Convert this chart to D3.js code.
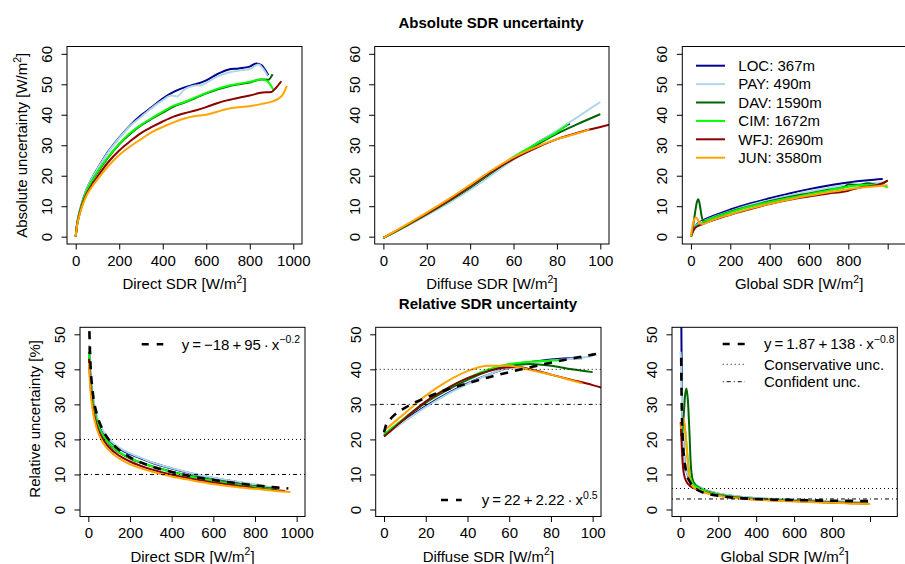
<!DOCTYPE html>
<html>
<head>
<meta charset="utf-8">
<script src="https://cdn.jsdelivr.net/npm/d3@7"></script>
<style>
body { margin: 0; background: #fff; }
svg { font-family: "Liberation Sans", Arial, Helvetica, sans-serif; }
</style>
</head>
<body>
<svg id="chart" width="905" height="564"></svg>
<script>
// stations, in legend order
var stations = ['LOC: 367m', 'PAY: 490m', 'DAV: 1590m', 'CIM: 1672m', 'WFJ: 2690m', 'JUN: 3580m'];
var colors = ['#00008b', '#add8e6', '#006400', '#00ff00', '#8b0000', '#ffa500'];

// absolute uncertainty [W/m2] vs direct SDR, one list per station
var absDirect = [
	[[0,0],[5,3.5],[10,5.8],[20,8.8],[35,12.5],[50,15.5],[75,19.2],[100,22.3],[150,28],[200,32.5],[250,36.5],[300,39.8],[350,42.5],[400,45.3],[450,47.5],[500,49],[550,50],[600,51.3],[650,53.3],[700,54.8],[750,55.2],[800,55.8],[830,56.8],[855,56.2],[870,54.8],[885,53]],
	[[0,0],[5,3.5],[10,5.8],[20,8.8],[35,12.5],[50,15.5],[75,19.1],[100,22.2],[150,27.8],[200,32.3],[250,36.3],[300,39.3],[350,42.2],[400,44.8],[440,46.3],[465,46],[500,48.3],[550,49.6],[580,49.8],[600,50.5],[650,52.5],[700,53.8],[750,54.5],[800,55],[840,56.5],[860,55.2],[880,53]],
	[[0,0],[5,3.3],[10,5.4],[20,8.4],[35,12],[50,14.8],[75,18.2],[100,21],[150,26],[200,30.3],[250,33.7],[300,36.5],[350,38.7],[400,40.7],[450,42.7],[500,44],[550,45.5],[600,47],[650,48.3],[700,49.3],[750,50],[800,50.6],[850,51.6],[885,51.5],[905,53.3]],
	[[0,0],[5,3.3],[10,5.4],[20,8.5],[35,12.1],[50,15],[75,18.4],[100,21.3],[150,26.3],[200,30.5],[250,34],[300,36.7],[350,38.9],[400,41],[450,43],[500,44.2],[550,45.7],[600,47.2],[650,48.5],[700,49.5],[750,50.2],[800,50.8],[850,51.6],[875,51.3],[895,49.8],[908,48.2]],
	[[0,0],[5,3.2],[10,5.2],[20,8.1],[35,11.5],[50,14],[75,17.1],[100,19.7],[150,24.5],[200,28.3],[250,31.3],[300,34],[350,36],[400,37.8],[450,39.4],[500,40.5],[550,41.4],[600,42.5],[650,43.8],[700,44.8],[750,45.6],[800,46.3],[850,47.2],[900,47.5],[920,48.8],[945,51]],
	[[0,0],[5,3.1],[10,5],[20,7.8],[35,11],[50,13.5],[75,16.4],[100,18.8],[150,23.2],[200,26.8],[250,29.6],[300,32],[350,34.3],[400,36],[450,37.5],[500,38.8],[550,39.6],[600,40],[650,41],[700,42],[750,42.5],[800,42.8],[850,43.5],[900,44.3],[930,45.2],[955,47],[970,49.5]]
];
var absDiffuse = [
	[[0,-0.4],[10,3.3],[20,7.2],[30,11.3],[40,15.8],[50,20.7],[60,25.6],[70,30.3],[80,34.6],[86,37.2]],
	[[0,-0.4],[10,3.2],[20,7],[30,11],[40,15.4],[50,20.3],[60,25.3],[70,30.2],[80,34.8],[90,39.5],[100,44.2]],
	[[0,-0.4],[10,3.4],[20,7.4],[30,11.6],[40,16.2],[50,21.1],[60,25.8],[70,29.8],[80,33.8],[90,37.1],[100,40.2]],
	[[0,-0.4],[10,3.4],[20,7.5],[30,11.8],[40,16.4],[50,21.3],[60,26.2],[70,30.3],[80,34.3],[85,36.8]],
	[[0,-0.4],[10,3.5],[20,7.5],[30,11.8],[40,16.5],[50,21.3],[60,25.5],[70,29],[80,32],[90,34.2],[100,36],[110,37.8]],
	[[0,-0.4],[10,3.7],[20,7.9],[30,12.3],[40,17],[50,21.8],[60,26],[70,29.3],[80,32],[90,34],[95,35.2]]
];
var absGlobal = [
	[[0,0],[15,2.5],[30,4],[60,5.3],[100,6.5],[200,8.9],[300,10.9],[400,12.6],[500,14.2],[600,15.6],[700,16.8],[800,17.8],[900,18.5],[975,18.9]],
	[[0,0],[15,2.5],[30,3.8],[60,5],[100,6.1],[200,8.4],[300,10.4],[400,12],[500,13.5],[600,14.8],[700,16],[800,17],[900,17.5],[975,17.8]],
	[[0,0],[10,3],[20,7.5],[30,11.3],[37,12.3],[45,10.5],[55,6.5],[65,5],[100,5.9],[200,8.2],[300,10],[400,11.6],[500,13],[600,14.2],[700,15.4],[780,16.3],[800,17.2],[850,16.9],[900,17.5],[950,17],[980,17.6],[1000,18.5]],
	[[0,0],[15,2.3],[30,3.6],[60,4.6],[100,5.8],[200,8],[300,9.9],[400,11.4],[500,12.7],[600,13.9],[700,15.2],[800,16.4],[900,17],[970,16.9],[1000,16.1]],
	[[0,0],[10,1.8],[20,2.8],[40,3.6],[60,4.1],[100,5.1],[200,7.2],[300,9],[400,10.7],[500,12.1],[600,13.2],[700,14.2],[780,14.8],[800,15.1],[850,16],[900,16.5],[950,17],[1000,18.4]],
	[[0,0],[8,3.5],[16,5.6],[25,6.3],[35,5.6],[45,4.3],[60,4.2],[100,5.2],[200,7.3],[300,9.2],[400,10.8],[500,12.2],[600,13.5],[700,14.6],[800,15.6],[900,16.3],[1000,16.9]]
];

// relative uncertainty [%]
var relDirect = [
	[[3,46.5],[10,38.5],[20,32.5],[40,26.5],[60,23.5],[80,21.3],[100,19.8],[150,17.3],[200,15.8],[250,14.6],[300,13.5],[400,11.7],[500,10.2],[600,9],[700,8],[800,7],[880,6.2]],
	[[3,47],[10,39],[20,33],[40,27],[60,23.8],[80,21.6],[100,20.1],[150,17.6],[200,16],[250,14.8],[300,13.6],[400,11.8],[500,10.3],[600,9.1],[700,8.1],[800,7.2],[880,6.3]],
	[[3,45],[10,37.5],[20,31.5],[40,25.5],[60,22.3],[80,20.2],[100,18.7],[150,16.2],[200,14.6],[250,13.4],[300,12.4],[400,10.8],[500,9.5],[600,8.4],[700,7.4],[800,6.6],[905,5.8]],
	[[3,44.5],[10,37.2],[20,31.3],[40,25.3],[60,22.3],[80,20.3],[100,18.9],[150,16.3],[200,14.7],[250,13.5],[300,12.4],[400,10.7],[500,9.3],[600,8.2],[700,7.2],[800,6.4],[908,5.5]],
	[[3,43],[10,35.5],[20,29.8],[40,24.2],[60,21.2],[80,19.2],[100,17.7],[150,15.3],[200,13.7],[250,12.5],[300,11.5],[400,9.9],[500,8.7],[600,7.7],[700,6.9],[800,6.1],[900,5.5],[945,5.3]],
	[[3,41.8],[10,34.3],[20,28.7],[40,23.2],[60,20.2],[80,18.2],[100,16.8],[150,14.5],[200,12.9],[250,11.8],[300,10.9],[400,9.4],[500,8.3],[600,7.3],[700,6.5],[800,5.9],[900,5.3],[970,5]]
];
var relDiffuse = [
	[[0,21],[10,25.5],[20,29.5],[30,33],[40,36],[50,38.5],[60,40.5],[70,42],[80,42.8],[90,43.2],[95,43.2]],
	[[0,21],[10,25.2],[20,29.2],[30,32.8],[40,35.8],[50,38.5],[60,40.5],[70,41.8],[80,42.5],[90,43],[100,43.8]],
	[[0,21.3],[10,26],[20,30.5],[30,34],[40,37],[50,39.5],[60,41],[70,41.5],[80,41],[90,40],[100,39.2]],
	[[0,21.5],[10,26.2],[20,30.8],[30,34.5],[40,37.5],[50,40],[60,41.5],[70,42.2],[80,42.5],[85,42.6]],
	[[0,20.8],[10,26],[20,30.8],[30,34.5],[40,37.5],[50,39.5],[60,40.6],[65,40.6],[70,40],[80,38.5],[90,37],[100,35.5],[106,34.5]],
	[[0,22.5],[10,27.5],[20,32.5],[30,36.5],[40,39.5],[50,41],[60,41],[65,40.5],[70,39.8],[80,38.5],[90,36.8],[95,36]]
];
var relGlobal = [
	[[4,62],[6,47],[8,36],[10,29],[15,20],[20,15.5],[30,11.5],[50,8.6],[75,7.3],[100,6.4],[150,5.2],[200,4.5],[300,3.7],[400,3.2],[500,2.9],[600,2.7],[700,2.5],[800,2.3],[900,2.1],[975,2]],
	[[1,45],[4,42],[7,35],[10,28],[15,20],[20,15.5],[30,11.5],[50,8.8],[75,7.4],[100,6.5],[150,5.3],[200,4.6],[300,3.8],[400,3.3],[500,3],[600,2.8],[700,2.6],[800,2.4],[900,2.2],[975,2.1]],
	[[3,21],[10,22.5],[18,27],[25,32.5],[32,34.5],[40,31],[48,22],[55,13],[65,8.5],[80,7],[100,6.2],[150,5],[200,4.3],[300,3.5],[400,3],[500,2.7],[600,2.5],[700,2.3],[800,2.1],[900,1.9],[990,1.8]],
	[[3,22],[8,24],[15,25],[22,24],[30,20],[40,14],[50,9.5],[65,7.5],[80,6.6],[100,6],[150,4.9],[200,4.2],[300,3.4],[400,3],[500,2.7],[600,2.5],[700,2.2],[800,2],[900,1.9],[990,1.7]],
	[[2,25],[5,21],[10,15],[15,11.5],[20,9.8],[30,8.2],[50,6.8],[75,6],[100,5.4],[150,4.6],[200,4],[300,3.3],[400,2.9],[500,2.6],[600,2.4],[700,2.2],[800,2],[900,1.8],[990,1.7]],
	[[3,23],[8,25],[15,26],[22,24.5],[30,20],[40,13],[50,8.5],[65,6.6],[80,6],[100,5.5],[150,4.5],[200,3.9],[300,3.2],[400,2.8],[500,2.5],[600,2.3],[700,2.1],[800,1.9],[900,1.7],[1000,1.6]]
];

// fitted curves (black dashed)
var fitDirect = [[5,50.9],[10,41.9],[20,34.2],[40,27.4],[60,23.9],[80,21.5],[100,19.8],[150,16.9],[200,14.9],[300,12.4],[400,10.7],[500,9.4],[600,8.4],[700,7.6],[800,6.9],[900,6.3],[960,6]];
var fitDiffuse = [[0,22],[1,24.2],[3,25.8],[5,27],[10,29],[15,30.6],[20,31.9],[30,34.2],[40,36],[50,37.7],[60,39.2],[70,40.6],[80,41.9],[90,43.1],[100,44.2],[106,44.9]];
var fitGlobal = [[4.5,43.3],[6,34.8],[8,28],[10,23.7],[15,17.7],[20,14.4],[30,10.9],[50,7.9],[75,6.2],[100,5.3],[150,4.4],[200,3.9],[300,3.3],[400,3],[500,2.8],[600,2.7],[700,2.6],[800,2.5],[900,2.45],[1000,2.4]];
var fitLabels = [
	['y\u2009=\u2009\u221218\u2009+\u200995\u2009\u00b7\u2009x', '\u22120.2'],
	['y\u2009=\u200922\u2009+\u20092.22\u2009\u00b7\u2009x', '0.5'],
	['y\u2009=\u20091.87\u2009+\u2009138\u2009\u00b7\u2009x', '\u22120.8']
];

// conservative (dotted) and confident (dot-dash) thresholds [%]
var conservative = [20, 40, 6];
var confident = [10, 30, 3];

var ticksDirect = [0, 200, 400, 600, 800, 1000];
var ticksDiffuse = [0, 20, 40, 60, 80, 100];
var ticksGlobal = [0, 200, 400, 600, 800, 1000];
var labelsGlobal = ['0', '200', '400', '600', '800', ''];
var ticksAbs = [0, 10, 20, 30, 40, 50, 60];
var ticksRel = [0, 10, 20, 30, 40, 50];

var svg = d3.select('#chart');
var FONT = 15;

// R style axis range: 4% on each side
function expand(lim) {
	var d = (lim[1] - lim[0]) * 0.04;
	return [lim[0] - d, lim[1] + d];
}

function supText(t, base, sup, after) {
	t.append('tspan').text(base);
	t.append('tspan').attr('dy', -6.5).attr('font-size', FONT * 0.7).text(sup);
	if (after) t.append('tspan').attr('dy', 6.5).text(after);
}

function drawPanel(p, idx) {
	var L = p.box[0], R = p.box[1], T = p.box[2], B = p.box[3];
	var x = d3.scaleLinear().domain(expand(p.xlim)).range([L, R]);
	var y = d3.scaleLinear().domain(expand(p.ylim)).range([B, T]);

	svg.append('clipPath').attr('id', 'clip' + idx)
		.append('rect')
		.attr('x', L).attr('y', T)
		.attr('width', R - L).attr('height', B - T);

	var g = svg.append('g');
	var plot = g.append('g').attr('clip-path', 'url(#clip' + idx + ')');

	var line = d3.line()
		.x(function(d){ return x(d[0]); })
		.y(function(d){ return y(d[1]); })
		.curve(d3.curveMonotoneX);

	p.series.forEach(function(s, i){
		plot.append('path')
			.attr('d', line(s))
			.attr('fill', 'none')
			.attr('stroke', colors[i])
			.attr('stroke-width', 2)
			.attr('stroke-linejoin', 'round');
	});

	if (p.fit) {
		plot.append('path')
			.attr('d', line(p.fit))
			.attr('fill', 'none')
			.attr('stroke', '#000')
			.attr('stroke-width', 2.6)
			.attr('stroke-dasharray', '8,7');
	}

	if (p.hlines) {
		plot.append('line')
			.attr('x1', L).attr('x2', R)
			.attr('y1', y(p.hlines[0])).attr('y2', y(p.hlines[0]))
			.attr('stroke', '#000').attr('stroke-width', 1)
			.attr('stroke-dasharray', '1,3');
		plot.append('line')
			.attr('x1', L).attr('x2', R)
			.attr('y1', y(p.hlines[1])).attr('y2', y(p.hlines[1]))
			.attr('stroke', '#000').attr('stroke-width', 1)
			.attr('stroke-dasharray', '1,3,4,3');
	}

	// box
	g.append('rect')
		.attr('x', L).attr('y', T)
		.attr('width', R - L).attr('height', B - T)
		.attr('fill', 'none').attr('stroke', '#000').attr('stroke-width', 1);

	// x axis
	var xa = g.append('g')
		.attr('transform', 'translate(0,' + B + ')')
		.call(d3.axisBottom(x).tickValues(p.xticks).tickSize(5.5)
			.tickFormat(function(d, i){ return p.xlabels ? p.xlabels[i] : d; }));
	xa.select('.domain').remove();
	xa.selectAll('line').attr('stroke', '#000');
	xa.selectAll('text')
		.attr('y', 21.5).attr('dy', null)
		.attr('fill', '#000')
		.attr('font-size', FONT)
		.attr('font-family', null);

	// y axis, labels turned like R's las = 0
	var ya = g.append('g')
		.attr('transform', 'translate(' + L + ',0)')
		.call(d3.axisLeft(y).tickValues(p.yticks).tickSize(5.5));
	ya.select('.domain').remove();
	ya.selectAll('line').attr('stroke', '#000');
	ya.selectAll('text')
		.attr('x', 0).attr('y', -15).attr('dy', null)
		.attr('transform', 'rotate(-90)')
		.attr('text-anchor', 'middle')
		.attr('fill', '#000')
		.attr('font-size', FONT)
		.attr('font-family', null);

	var xt = g.append('text')
		.attr('x', (L + R) / 2)
		.attr('y', B + 45)
		.attr('text-anchor', 'middle')
		.attr('font-size', FONT);
	supText(xt, p.xtitle + ' [W/m', '2', ']');

	if (p.ytitle) {
		var yt = g.append('text')
			.attr('transform', 'translate(' + (L - 40) + ',' + ((T + B) / 2 + p.ytitleShift) + ') rotate(-90)')
			.attr('text-anchor', 'middle')
			.attr('font-size', FONT);
		if (p.ytitleSup) supText(yt, p.ytitle, '2', ']');
		else yt.text(p.ytitle);
	}
}

var panels = [
	{ box: [67, 302, 46.5, 244], xlim: [0, 1000], ylim: [0, 60], series: absDirect,
	  xticks: ticksDirect, yticks: ticksAbs, xtitle: 'Direct SDR',
	  ytitle: 'Absolute uncertainty [W/m', ytitleSup: true, ytitleShift: 0 },
	{ box: [374.7, 609, 46.5, 244], xlim: [0, 100], ylim: [0, 60], series: absDiffuse,
	  xticks: ticksDiffuse, yticks: ticksAbs, xtitle: 'Diffuse SDR' },
	{ box: [682.3, 916, 46.5, 244], xlim: [0, 1100], ylim: [0, 60], series: absGlobal,
	  xticks: ticksGlobal, xlabels: labelsGlobal, yticks: ticksAbs, xtitle: 'Global SDR' },
	{ box: [80, 305, 327.3, 516.5], xlim: [0, 1000], ylim: [0, 50], series: relDirect, fit: fitDirect,
	  hlines: [conservative[0], confident[0]],
	  xticks: ticksDirect, yticks: ticksRel, xtitle: 'Direct SDR',
	  ytitle: 'Relative uncertainty [%]', ytitleShift: -3 },
	{ box: [375.7, 601, 327.3, 516.5], xlim: [0, 100], ylim: [0, 50], series: relDiffuse, fit: fitDiffuse,
	  hlines: [conservative[1], confident[1]],
	  xticks: ticksDiffuse, yticks: ticksRel, xtitle: 'Diffuse SDR' },
	{ box: [672, 897.3, 327.3, 516.5], xlim: [0, 1100], ylim: [0, 50], series: relGlobal, fit: fitGlobal,
	  hlines: [conservative[2], confident[2]],
	  xticks: ticksGlobal, xlabels: labelsGlobal, yticks: ticksRel, xtitle: 'Global SDR' }
];

panels.forEach(drawPanel);

// titles
svg.append('text').attr('x', 491).attr('y', 28)
	.attr('text-anchor', 'middle').attr('font-weight', 'bold').attr('font-size', FONT)
	.text('Absolute SDR uncertainty');
svg.append('text').attr('x', 488).attr('y', 308.5)
	.attr('text-anchor', 'middle').attr('font-weight', 'bold').attr('font-size', FONT)
	.text('Relative SDR uncertainty');

// station legend (top right panel)
var lg = svg.append('g');
stations.forEach(function(name, i){
	var ly = 65.7 + i * 18.4;
	lg.append('line')
		.attr('x1', 696).attr('x2', 725).attr('y1', ly).attr('y2', ly)
		.attr('stroke', colors[i]).attr('stroke-width', 2);
	lg.append('text')
		.attr('x', 738.3).attr('y', ly + 5.3)
		.attr('font-size', FONT)
		.text(name);
});

// fit legends
function legendRow(x1, x2, ly, tx, dash, width, label, sup) {
	svg.append('line')
		.attr('x1', x1).attr('x2', x2).attr('y1', ly).attr('y2', ly)
		.attr('stroke', '#000').attr('stroke-width', width)
		.attr('stroke-dasharray', dash);
	var t = svg.append('text')
		.attr('x', tx).attr('y', ly + 5.3)
		.attr('font-size', FONT);
	if (sup) supText(t, label, sup);
	else t.text(label);
}

legendRow(141.7, 163.3, 344.3, 181.7, '7,8', 2.6, fitLabels[0][0], fitLabels[0][1]);
legendRow(441, 461.7, 500, 481.7, '7,8', 2.6, fitLabels[1][0], fitLabels[1][1]);
legendRow(722.7, 745, 344, 764, '7,8', 2.6, fitLabels[2][0], fitLabels[2][1]);
legendRow(722.7, 745, 364.3, 764, '1,3', 1, 'Conservative unc.');
legendRow(722.7, 745, 381.7, 764, '1,3,4,3', 1, 'Confident unc.');
</script>
</body>
</html>
